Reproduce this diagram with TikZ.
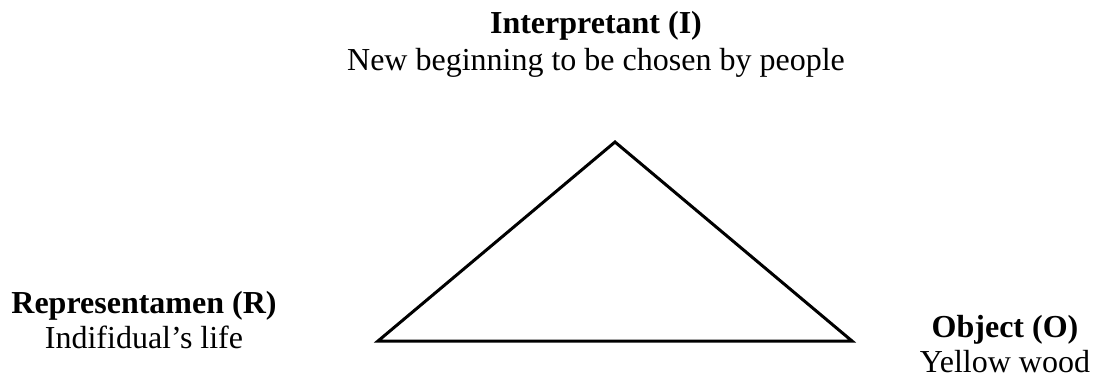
\documentclass[tikz,border=0pt]{standalone}
\usepackage{fontspec}
\setmainfont{Liberation Serif}
\begin{document}
\begin{tikzpicture}[x=1pt,y=-1pt,
  lbl/.style={anchor=base,inner sep=0pt,font=\fontsize{32}{36}\selectfont},
  bl/.style={lbl,font=\fontsize{32}{36}\selectfont\bfseries},
  tri/.style={line width=3pt,line join=miter}]
\useasboundingbox (0,0) rectangle (1097,378);
\coordinate (I) at (615,142);
\coordinate (R) at (378,341);
\coordinate (O) at (852,341);
\draw[tri] (I) -- (O) -- (R) -- cycle;
\node[bl] (it) at (596,33) {Interpretant (I)};
\node[lbl] (id) at (596,70) {New beginning to be chosen by people};
\node[bl] (rt) at (144,313) {Representamen (R)};
\node[lbl] (rd) at (144,348) {Indifidual’s life};
\node[bl] (ot) at (1005,337) {Object (O)};
\node[lbl] (od) at (1005,372) {Yellow wood};
\end{tikzpicture}
\end{document}
